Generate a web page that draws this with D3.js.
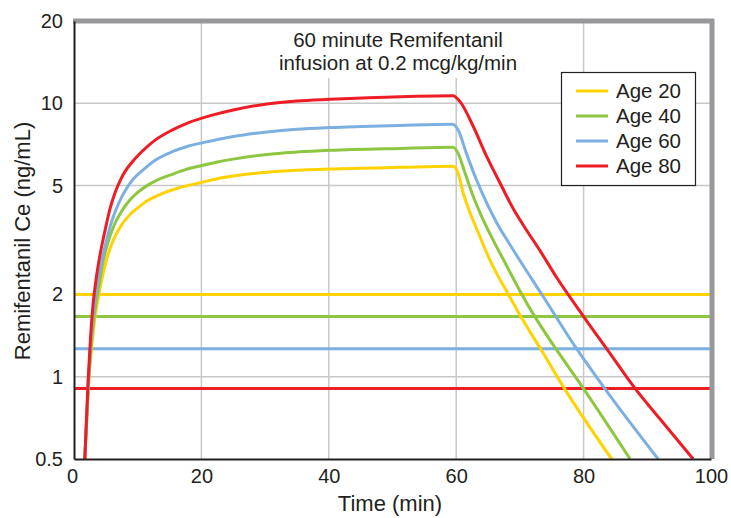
<!DOCTYPE html>
<html>
<head>
<meta charset="utf-8">
<script src="https://cdn.jsdelivr.net/npm/d3@7"></script>
<style>
  html, body { margin: 0; padding: 0; background: #fff; }
  svg { display: block; font-family: "Liberation Sans", Arial, Helvetica, sans-serif; }
</style>
</head>
<body>
<svg id="chart" width="731" height="518"></svg>
<script>
// ---------------- data ----------------
const seriesNames = ["Age 20", "Age 40", "Age 60", "Age 80"];
const seriesColors = ["#FFD200", "#8DC63F", "#7BB0E0", "#EE1C25"];
const thresholds = [2.0, 1.66, 1.265, 0.905];   // horizontal lines, same order as series

const age20 = [[1.7,0.5],[2.35,0.97],[2.8,1.3],[3.3,1.65],[3.9,2.0],[4.6,2.4],[5.45,2.85],[6.4,3.25],[7.5,3.6],[8.8,3.92],[10.2,4.18],[11.5,4.4],[12.8,4.56],[14.5,4.74],[16.4,4.9],[19.8,5.12],[22.5,5.3],[25,5.42],[30.3,5.6],[35,5.69],[40.2,5.75],[51.2,5.83],[59.5,5.88],[60.3,5.55],[61.1,4.69],[62.2,3.96],[63.5,3.35],[65.3,2.67],[66.9,2.26],[68.2,2.0],[70.0,1.68],[73.2,1.27],[76.8,0.92],[84.4,0.5]];
const age40 = [[1.7,0.5],[2.3,0.97],[2.7,1.3],[3.2,1.7],[3.8,2.08],[4.5,2.6],[5.3,3.08],[6.3,3.58],[7.4,4.0],[8.6,4.38],[10,4.72],[11.6,5.02],[13.4,5.28],[15.4,5.5],[17.5,5.72],[19.8,5.9],[22.5,6.1],[25,6.25],[30.3,6.5],[35,6.63],[40.2,6.73],[51.2,6.84],[59.5,6.9],[60.3,6.56],[61.4,5.55],[62.7,4.55],[64.0,3.85],[65.8,3.16],[67.9,2.55],[70.2,2.02],[72.2,1.68],[75.8,1.25],[79.5,0.94],[87.3,0.5]];
const age60 = [[1.7,0.5],[2.25,0.95],[2.65,1.35],[3.1,1.75],[3.6,2.12],[4.3,2.6],[5.1,3.15],[6.0,3.75],[7.0,4.3],[8.05,4.8],[9.3,5.28],[10.9,5.72],[12.8,6.2],[15.4,6.65],[18,6.98],[21.7,7.3],[25,7.56],[30.3,7.85],[35,8.03],[40.2,8.15],[51.2,8.3],[59.5,8.38],[60.3,7.98],[61.6,6.56],[63.2,5.24],[64.8,4.31],[66.4,3.64],[68.4,3.05],[70.5,2.55],[73.2,2.04],[78.9,1.266],[83.1,0.92],[91.7,0.5]];
const age80 = [[1.7,0.5],[2.2,0.95],[2.6,1.4],[3.0,1.85],[3.5,2.3],[4.1,2.8],[4.9,3.45],[5.7,4.15],[6.5,4.75],[7.3,5.25],[8.05,5.65],[9,6.05],[10.2,6.5],[11.5,6.95],[12.8,7.35],[15.4,7.98],[18,8.5],[21.7,9.05],[25,9.45],[30.3,9.95],[35,10.2],[40.2,10.34],[51.2,10.57],[59.5,10.65],[60.6,10.14],[62.7,8.21],[64.8,6.38],[66.9,5.1],[69.0,4.1],[70.0,3.75],[71.1,3.42],[73.2,2.88],[75.8,2.3],[80.0,1.66],[84.0,1.23],[88.1,0.904],[92.0,0.7],[97.2,0.5]];
const seriesData = [age20, age40, age60, age80];

const xTicks = [0, 20, 40, 60, 80, 100];
const yTicks = [0.5, 1, 2, 5, 10, 20];
const yTickLabels = ["0.5", "1", "2", "5", "10", "20"];
const xGrid = [20, 40, 60, 80];
const yGrid = [1, 2, 5, 10];
const titleLines = ["60 minute Remifentanil", "infusion at 0.2 mcg/kg/min"];
const xTitle = "Time (min)";
const yTitle = "Remifentanil Ce (ng/mL)";

// ---------------- layout ----------------
const L = 74, R = 711, T = 21, B = 459;
const svg = d3.select("#chart");
const x = d3.scaleLinear().domain([0, 100]).range([L, R]);
const y = d3.scaleLog().domain([0.5, 20]).range([B, T]);
const textColor = "#231f20";

svg.append("defs").append("clipPath").attr("id", "plotClip")
  .append("rect").attr("x", L).attr("y", T).attr("width", R - L).attr("height", B - T);

// gridlines
svg.append("g").selectAll("line").data(xGrid).join("line")
  .attr("x1", d => x(d)).attr("x2", d => x(d)).attr("y1", T).attr("y2", B)
  .attr("stroke", "#c8c8c8").attr("stroke-width", 1.5);
svg.append("g").selectAll("line").data(yGrid).join("line")
  .attr("x1", L).attr("x2", R).attr("y1", d => y(d)).attr("y2", d => y(d))
  .attr("stroke", "#c8c8c8").attr("stroke-width", 1.5);

// title box (white background hides gridlines)
svg.append("rect").attr("x", 272).attr("y", T + 2).attr("width", 252).attr("height", 55).attr("fill", "#fff");
svg.append("g").selectAll("text").data(titleLines).join("text")
  .attr("x", 398).attr("y", (d, i) => 47 + i * 23)
  .attr("text-anchor", "middle").attr("font-size", 20.5).attr("fill", textColor)
  .text(d => d);

// threshold lines
const plot = svg.append("g").attr("clip-path", "url(#plotClip)");
plot.selectAll("line.thr").data(thresholds).join("line").attr("class", "thr")
  .attr("x1", L).attr("x2", R).attr("y1", d => y(d)).attr("y2", d => y(d))
  .attr("stroke", (d, i) => seriesColors[i]).attr("stroke-width", 3);

// curves
const line = d3.line().x(d => x(d[0])).y(d => y(d[1])).curve(d3.curveMonotoneX);
plot.selectAll("path.curve").data(seriesData).join("path").attr("class", "curve")
  .attr("d", line).attr("fill", "none")
  .attr("stroke", (d, i) => seriesColors[i]).attr("stroke-width", 3)
  .attr("stroke-linejoin", "round");

// frame: gray top/right
svg.append("line").attr("x1", L - 1).attr("x2", R + 3).attr("y1", T).attr("y2", T)
  .attr("stroke", "#97989b").attr("stroke-width", 5);
svg.append("line").attr("x1", R + 1).attr("x2", R + 1).attr("y1", T - 2).attr("y2", B)
  .attr("stroke", "#97989b").attr("stroke-width", 5);

// axes
const yAxis = d3.axisLeft(y).tickValues(yTicks).tickFormat((d, i) => yTickLabels[i])
  .tickSize(0).tickSizeOuter(0).tickPadding(11);
const gy = svg.append("g").attr("transform", `translate(${L},0)`).call(yAxis);
const xAxis = d3.axisBottom(x).tickValues(xTicks).tickFormat(d3.format("d"))
  .tickSize(0).tickSizeOuter(0).tickPadding(10);
const gx = svg.append("g").attr("transform", `translate(0,${B})`).call(xAxis);
[gx, gy].forEach(g => {
  g.select(".domain").attr("stroke", "#231f20").attr("stroke-width", 2);
  g.selectAll("text").attr("font-size", 20).attr("fill", textColor)
    .attr("font-family", "Liberation Sans, Arial, sans-serif");
});
gx.selectAll(".tick text").attr("dx", d => d === 0 ? -2 : 0);

// axis titles
svg.append("text").attr("x", 390).attr("y", 511).attr("text-anchor", "middle")
  .attr("font-size", 22).attr("fill", textColor).text(xTitle);
svg.append("text").attr("transform", "translate(30,241) rotate(-90)")
  .attr("text-anchor", "middle").attr("font-size", 22).attr("fill", textColor).text(yTitle);

// legend
const lg = svg.append("g");
lg.append("rect").attr("x", 561.5).attr("y", 72.5).attr("width", 134).attr("height", 113)
  .attr("fill", "#fff").attr("stroke", "#231f20").attr("stroke-width", 1.2);
const items = lg.selectAll("g.item").data(seriesNames).join("g").attr("class", "item")
  .attr("transform", (d, i) => `translate(0,${91 + i * 25})`);
items.append("line").attr("x1", 576).attr("x2", 608).attr("y1", 0).attr("y2", 0)
  .attr("stroke", (d, i) => seriesColors[i]).attr("stroke-width", 3);
items.append("text").attr("x", 616).attr("y", 0).attr("dy", "0.36em")
  .attr("font-size", 20.5).attr("fill", textColor).text(d => d);
</script>
</body>
</html>
